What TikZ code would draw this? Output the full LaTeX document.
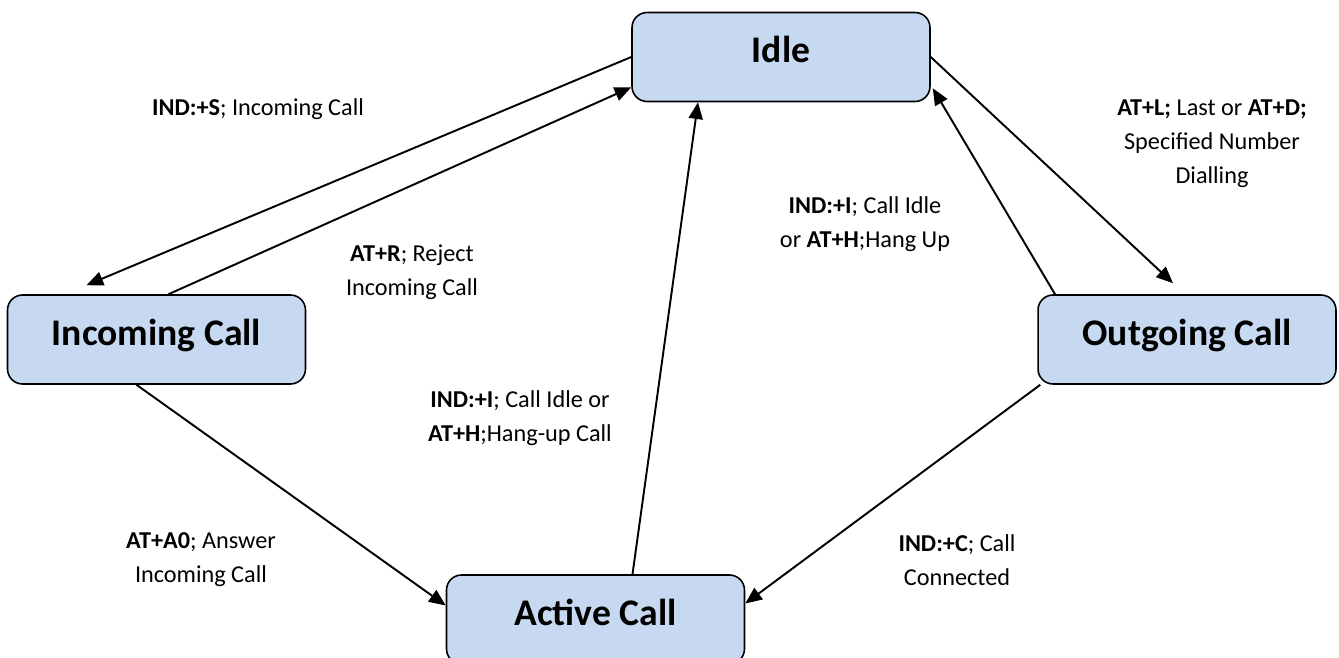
\documentclass[tikz,border=0pt]{standalone}
\usepackage{fontspec}
\setmainfont{Carlito}
\usetikzlibrary{arrows.meta}
\definecolor{stateblue}{RGB}{198,217,241}
\tikzset{
	state/.style={draw, line width=0.9pt, fill=stateblue, rounded corners=0.3cm,
		minimum width=5.96cm, minimum height=1.78cm, text height=0.5cm, text depth=0.26cm,
		font=\bfseries\fontsize{21.4}{25}\selectfont},
	lbl/.style={align=center, font=\fontsize{13.8}{19.3}\selectfont},
	trans/.style={line width=1.1pt, -{Triangle[length=9.5pt,width=8pt]}}
}
\begin{document}
\begin{tikzpicture}[x=0.02cm, y=-0.02cm, line join=round]
		\useasboundingbox (0,0) rectangle (1339,658);
		\clip (0,0) rectangle (1339,658);
		\node[state] (idle) at (781,57) {Idle};
		\node[state] (incoming) at (156.5,339.5) {Incoming Call};
		\node[state] (outgoing) at (1187,339.5) {Outgoing Call};
		\node[state] (active) at (595.5,619.5) {Active Call};
		\draw[trans] (idle.west) -- ([shift={(-70,-9)}]incoming.north);
		\draw[trans] ([shift={(12,0)}]incoming.north) -- ([shift={(0,-15)}]idle.south west);
		\draw[trans] (idle.east) -- ([shift={(-14,-11)}]outgoing.north);
		\draw[trans] ([shift={(-132,0)}]outgoing.north) -- ([shift={(2,-14)}]idle.south east);
		\draw[trans] ([shift={(3,0)}]outgoing.south west) -- ([shift={(0,-16)}]active.east);
		\draw[trans] ([shift={(-20,0)}]incoming.south) -- ([shift={(0,-14)}]active.west);
		\draw[trans] ([shift={(37,0)}]active.north) -- ([shift={(-83,0)}]idle.south);
		\node[lbl] (lring) at (258,109) {\textbf{IND:+S}; Incoming Call};
		\node[lbl] (lreject) at (412,272) {\textbf{AT+R}; Reject\\Incoming Call};
		\node[lbl] (lhangup) at (865,224) {\textbf{IND:+I}; Call Idle\\or \textbf{AT+H};Hang Up};
		\node[lbl] (ldial) at (1212,144) {\textbf{AT+L;} Last or \textbf{AT+D;}\\Specified Number\\Dialling};
		\node[lbl] (lidle) at (520,418) {\textbf{IND:+I}; Call Idle or\\\textbf{AT+H};Hang-up Call};
		\node[lbl] (lanswer) at (201,560) {\textbf{AT+A0}; Answer\\Incoming Call};
		\node[lbl] (lconn) at (957,560) {\textbf{IND:+C}; Call\\Connected};
	\end{tikzpicture}
\end{document}
